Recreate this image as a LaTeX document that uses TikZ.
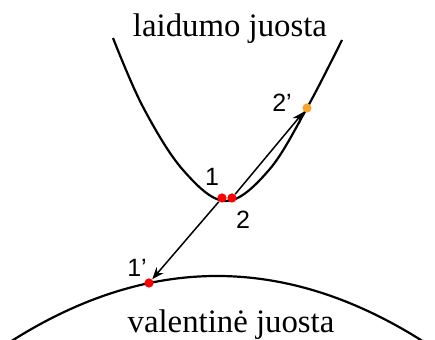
\documentclass[tikz,border=0pt]{standalone}
\usepackage{fontspec}
\setmainfont{Liberation Serif}
\newfontfamily\arialfont{Liberation Sans}
\usetikzlibrary{arrows.meta,positioning}
\definecolor{holeorange}{RGB}{247,165,40}
\tikzset{
  band/.style={line width=1.1pt},
  elec/.style={circle,fill=red,inner sep=0pt,minimum size=4.6pt},
  lbl/.style={font=\arialfont\fontsize{12.5}{13}\selectfont,inner sep=0pt},
  bandname/.style={font=\fontsize{16.4}{18}\selectfont,anchor=base,inner sep=0pt},
  jump/.style={-{Stealth[length=6pt,width=4.6pt]},line width=0.75pt}
}
\begin{document}
\begin{tikzpicture}[x=0.5pt,y=-0.5pt]
  \useasboundingbox (0,0) rectangle (435,340);
  % laidumo juosta
  \draw[band] plot[smooth,tension=0.6] coordinates {(113,38) (143,107) (183,170) (226,201) (269,170) (307,108) (342,40)};
  \node[bandname] (cb) at (230,37) {laidumo juosta};
  % valentine juosta
  \draw[band,domain=10:432,samples=80] plot (\x,{276+((\x-217)*0.03924)^2});
  \node[bandname] (vb) at (231,333) {valentinė juosta};
  % elektronai
  \node[elec] (e1) at (222,198) {};
  \node[elec] (e2) at (232,198) {};
  \node[elec] (e1p) at (149,283) {};
  \node[elec,fill=holeorange] (e2p) at (307,108) {};
  \draw[jump] (e1) -- (e1p);
  \draw[jump] (e2) -- (e2p);
  \node[lbl] (l1) at (212,177) {1};
  \node[lbl] (l2) at (243,220) {2};
  \node[lbl] (l1p) at (137,268) {1’};
  \node[lbl] (l2p) at (282,103) {2’};
\end{tikzpicture}
\end{document}
